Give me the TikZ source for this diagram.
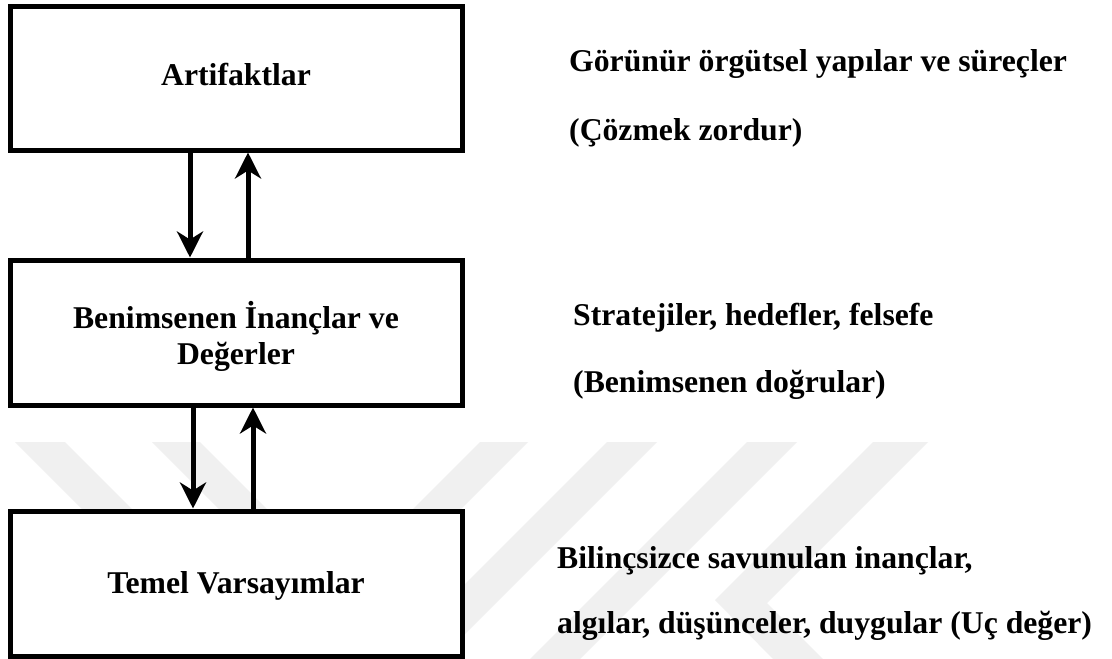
\documentclass[tikz,border=0pt]{standalone}
\usepackage{fontspec}
\setmainfont{Liberation Serif}
\usetikzlibrary{arrows.meta}
\begin{document}
\begin{tikzpicture}[x=1pt,y=-1pt,
  layerbox/.style={draw=black, line width=5pt, fill=white, inner sep=0pt, minimum width=452pt},
  boxtext/.style={anchor=base, inner sep=0pt, font=\fontsize{31.7}{36}\selectfont\bfseries},
  note/.style={anchor=base west, inner sep=0pt, font=\fontsize{31.7}{36}\selectfont\bfseries},
  flow/.style={line width=5pt, -{Stealth[length=26pt, width=26pt, inset=8pt]}},
  stripe/.style={fill=black!6, draw=none}]
\useasboundingbox (0,0) rectangle (1112,659);
\fill[white] (0,0) rectangle (1112,659);

% faint striped emblem in the background
\fill[stripe] (15,442) -- (65,442) -- (153,530) -- (103,530) -- cycle;
\fill[stripe] (152,442) -- (200,442) -- (288,530) -- (240,530) -- cycle;
\fill[stripe] (480,442) -- (528,442) -- (311,659) -- (263,659) -- cycle;
\fill[stripe] (607,442) -- (657,442) -- (440,659) -- (390,659) -- cycle;
\fill[stripe] (747,442) -- (797,442) -- (580,659) -- (530,659) -- cycle;
\fill[stripe] (873,442) -- (928,442) -- (767,603) -- (823,659) -- (773,659) -- (715,600) -- cycle;

% the three layers
\node[layerbox, minimum height=143.5pt] (art) at (236.5,78.25) {};
\node[layerbox, minimum height=145pt] (ben) at (236.5,332.5) {};
\node[layerbox, minimum height=145pt] (tem) at (236.5,583.5) {};

\node[boxtext] (artT) at (236,85) {Artifaktlar};
\node[boxtext] (benT1) at (236,328) {Benimsenen İnançlar ve};
\node[boxtext] (benT2) at (236,364) {Değerler};
\node[boxtext] (temT) at (236,593) {Temel Varsayımlar};

% links between layers
\draw[flow] ([xshift=-46.5pt]art.south) -- ([xshift=-46.5pt]ben.north);
\draw[flow] ([xshift=11.5pt]ben.north) -- ([xshift=11.5pt]art.south);
\draw[flow] ([xshift=-43.5pt]ben.south) -- ([xshift=-43.5pt]tem.north);
\draw[flow] ([xshift=16.5pt]tem.north) -- ([xshift=16.5pt]ben.south);

% descriptions
\node[note] (d1) at (569,71) {Görünür örgütsel yapılar ve süreçler};
\node[note] (d2) at (569,140) {(Çözmek zordur)};
\node[note] (d3) at (573,325) {Stratejiler, hedefler, felsefe};
\node[note] (d4) at (573,392) {(Benimsenen doğrular)};
\node[note] (d5) at (557,568) {Bilinçsizce savunulan inançlar,};
\node[note] (d6) at (557,633) {algılar, düşünceler, duygular (Uç değer)};
\end{tikzpicture}
\end{document}
